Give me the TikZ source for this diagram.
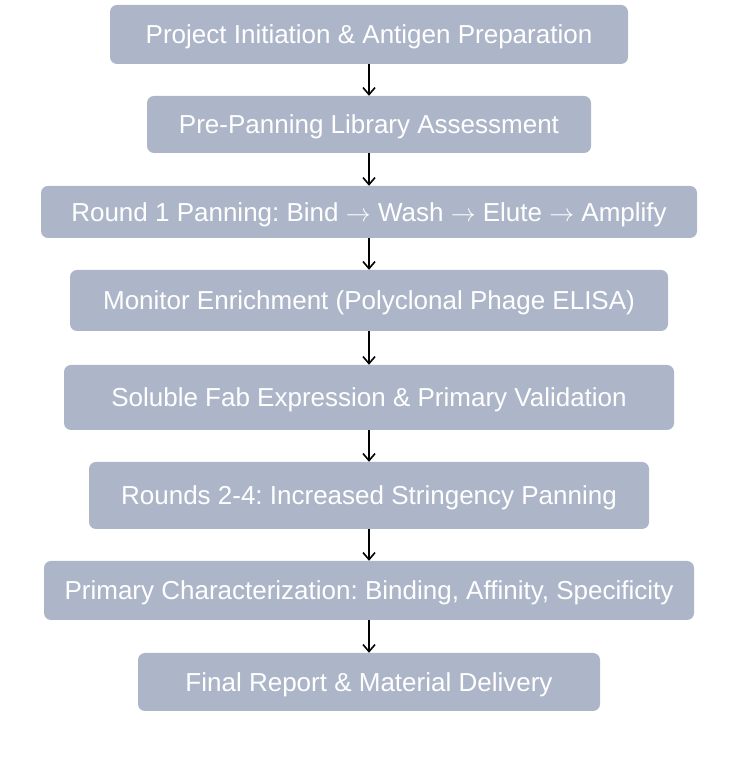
\documentclass[tikz,border=0pt]{standalone}
\usepackage{fontspec}
\setmainfont{Liberation Sans}
\usetikzlibrary{arrows.meta}
\definecolor{boxfill}{HTML}{ADB6C9}
\newcommand{\flowarr}{$\rightarrow$}
\frenchspacing
\begin{document}
\begin{tikzpicture}[x=1pt,y=1pt,
  stage/.style={fill=boxfill,rounded corners=7pt,inner sep=0pt,text=white,font=\fontsize{26}{30}\selectfont\frenchspacing,text height=20pt,text depth=1.4pt},
  flow/.style={draw=black,line width=1.6pt,-{Straight Barb[length=7pt,width=12pt,line width=1.6pt]}}]
\useasboundingbox (0,0) rectangle (736,770);
\node[stage,minimum width=518pt,minimum height=59pt] (n1) at (369,770-34.5) {Project Initiation \& Antigen Preparation};
\node[stage,minimum width=444pt,minimum height=57pt] (n2) at (369,770-124.5) {Pre-Panning Library Assessment};
\node[stage,minimum width=656pt,minimum height=52pt] (n3) at (369,770-212) {Round 1 Panning: Bind \flowarr{} Wash \flowarr{} Elute \flowarr{} Amplify};
\node[stage,minimum width=598pt,minimum height=61pt] (n4) at (369,770-300.5) {Monitor Enrichment (Polyclonal Phage ELISA)};
\node[stage,minimum width=610pt,minimum height=65pt] (n5) at (369,770-397.5) {Soluble Fab Expression \& Primary Validation};
\node[stage,minimum width=560pt,minimum height=67pt] (n6) at (369,770-495.5) {Rounds 2-4: Increased Stringency Panning};
\node[stage,minimum width=650pt,minimum height=59pt] (n7) at (369,770-590.5) {Primary Characterization: Binding, Affinity, Specificity};
\node[stage,minimum width=462pt,minimum height=58pt] (n8) at (369,770-682) {Final Report \& Material Delivery};
\foreach \a/\b in {n1/n2,n2/n3,n3/n4,n4/n5,n5/n6,n6/n7,n7/n8}
  \draw[flow] (\a.south) -- (\b.north);
\end{tikzpicture}
\end{document}
